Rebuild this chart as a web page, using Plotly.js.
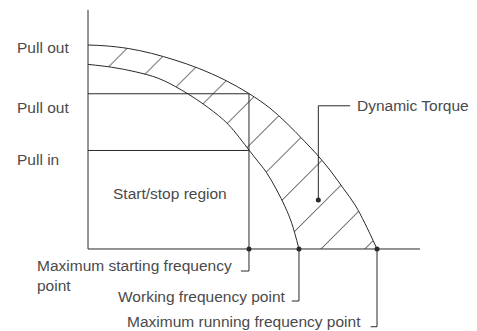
<!DOCTYPE html>
<html>
<head>
<meta charset="utf-8">
<script src="https://cdn.plot.ly/plotly-3.0.1.min.js"></script>
<style>
  html, body { margin: 0; padding: 0; background: #fff; }
  #graphDiv { width: 477px; height: 331px; }
</style>
</head>
<body>
<div id="graphDiv"></div>
<script>
// torque / speed curve of a stepper motor (schematic, arbitrary units)
var outerFreq   = [0, 59, 139, 220, 301, 382, 474, 557, 630, 688, 745, 791, 837, 883, 924, 958, 1000];
var outerTorque = [100, 99.6, 98.3, 95.9, 92.6, 88.6, 82.8, 76.2, 69.0, 61.6, 53.4, 46.5, 38.7, 29.8, 21.6, 12.6, 0];
var innerFreq   = [0, 82, 163, 243, 324, 416, 485, 557, 578, 618, 653, 682, 705, 730];
var innerTorque = [90.5, 89.1, 86.9, 83.7, 77.9, 69.3, 61.1, 48.5, 44.7, 37.4, 28.9, 20.7, 12.6, 0];

var pullOutTorque = 76.1;
var pullInTorque = 48.3;
var pointFreqs = [557, 730, 1000]; // max starting, working, max running
var pointDepths = [-10.8, -25.5, -38.1]; // leader bottoms below the axis
var pointHooks = [529, 705, 978];  // leader left ends
var dynDot = [797, 24];
var dynLeader = [70.2, 907];

var axisTopTorque = 117.2;
var axisEndFreq = 1149;

var ink = '#2a2a2a';
var textInk = '#4a4a4a';

function seg(xs, ys) {
  return {x: xs, y: ys, type: 'scatter', mode: 'lines',
    line: {color: ink, width: 1}, hoverinfo: 'skip', showlegend: false};
}

function drawGraph() {
  // hatched band between pull-out curves
  var bandX = outerFreq.concat(innerFreq.slice().reverse());
  var bandY = outerTorque.concat(innerTorque.slice().reverse());
  var band = {
    x: bandX, y: bandY, type: 'scatter', mode: 'lines', fill: 'toself',
    line: {width: 0, color: 'rgba(0,0,0,0)'},
    fillcolor: 'rgba(0,0,0,0)',
    fillpattern: {shape: '/', size: 31, solidity: 0.03, fgcolor: ink, bgcolor: 'rgba(0,0,0,0)'},
    hoverinfo: 'skip', showlegend: false
  };
  var outer = seg(outerFreq, outerTorque);
  outer.line.shape = 'spline';
  var inner = seg(innerFreq, innerTorque);
  inner.line.shape = 'spline';

  var data = [
    band, outer, inner,
    seg([0, 0], [0, axisTopTorque]),
    seg([0, axisEndFreq], [0, 0]),
    seg([0, pointFreqs[0], pointFreqs[0]], [pullOutTorque, pullOutTorque, 0]),
    seg([0, pointFreqs[0]], [pullInTorque, pullInTorque]),
    seg([dynDot[0], dynDot[0], dynLeader[1]], [dynDot[1], dynLeader[0], dynLeader[0]])
  ];
  for (var i = 0; i < pointFreqs.length; i++) {
    data.push(seg([pointFreqs[i], pointFreqs[i], pointHooks[i]], [0, pointDepths[i], pointDepths[i]]));
  }
  data.push({
    x: pointFreqs.concat([dynDot[0]]), y: [0, 0, 0, dynDot[1]],
    type: 'scatter', mode: 'markers', cliponaxis: false,
    marker: {size: 5, color: ink}, hoverinfo: 'skip', showlegend: false
  });

  var labels = [
    {text: 'Pull out', x: -251, y: 99.0},
    {text: 'Pull out', x: -251, y: 69.4},
    {text: 'Pull in', x: -251, y: 44.0},
    {text: 'Start/stop region', x: 80, y: 27.4},
    {text: 'Dynamic Torque', x: 925, y: 70.4},
    {text: 'Maximum starting frequency<br>point', x: -182, y: -13.2},
    {text: 'Working frequency point', x: 97, y: -23.2},
    {text: 'Maximum running frequency point', x: 129, y: -35.6}
  ];
  var annotations = labels.map(function (l) {
    return {text: l.text, x: l.x, y: l.y, xref: 'x', yref: 'y',
      xanchor: 'left', yanchor: 'middle', align: 'left', showarrow: false,
      font: {family: 'Liberation Sans, Arial, sans-serif', size: 15.5, color: textInk}};
  });

  var layout = {
    width: 477, height: 331,
    margin: {l: 0, r: 0, t: 0, b: 0},
    paper_bgcolor: '#fff', plot_bgcolor: '#fff',
    xaxis: {range: [-304.5, 1346.0], visible: false, fixedrange: true},
    yaxis: {range: [-40.2, 122.06], visible: false, fixedrange: true},
    annotations: annotations,
    showlegend: false
  };
  Plotly.newPlot('graphDiv', data, layout, {staticPlot: true, displayModeBar: false});
}

document.addEventListener('DOMContentLoaded', drawGraph, false);
</script>
</body>
</html>
